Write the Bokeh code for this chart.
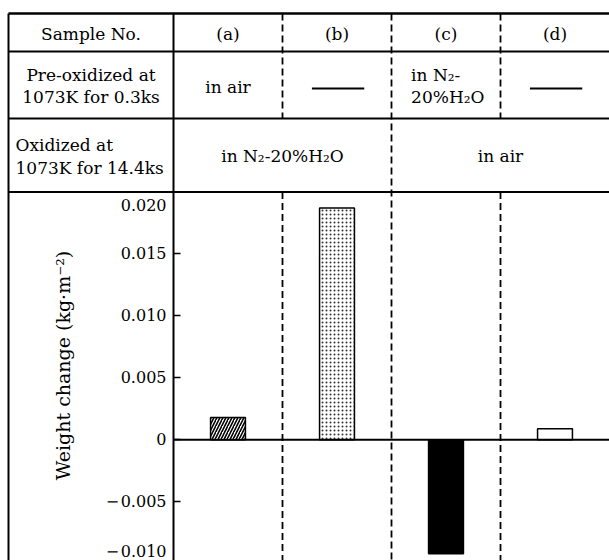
import math
from bokeh.plotting import figure
from bokeh.models import (Range1d, FixedTicker, CustomJSTickFormatter, ColumnDataSource)
from bokeh.core.properties import value
from bokeh.embed import file_html
from bokeh.resources import INLINE

# ---------------- data ----------------
samples = ["(a)", "(b)", "(c)", "(d)"]
weight_change = [0.0018, 0.0187, -0.0092, 0.0009]          # kg·m^-2
pre_oxidized = [["in air"], None, ["in N\u2082-", "20%H\u2082O"], None]
oxidized_groups = ["in N\u2082-20%H\u2082O", "in air"]       # (a)+(b), (c)+(d)
row_titles = [["Sample No."], ["Pre-oxidized at", "1073K for 0.3ks"],
              ["Oxidized at", "1073K for 14.4ks"]]
y_ticks = [-0.005, 0.0, 0.005, 0.010, 0.015]
y_end_ticks = [0.020, -0.010]
y_label = "Weight change (kg\u00b7m\u207b\u00b2)"

# ---------------- layout ----------------
FONT = "DejaVu Serif"
tf = value(FONT)
W, H = 609, 560
COL0 = 173                                 # canvas x of the first sample column
LEFT = 8                                   # outer left border
row_edges = [13, 51, 118, 191.5]           # canvas y of table rules
rule_widths = [2.6, 2, 2, 2]
colw = (W - COL0) / len(samples)
Y_BOTTOM, Y_CELL_TOP = -0.00974, 0.020
ppu = (H - row_edges[-1]) / (Y_CELL_TOP - Y_BOTTOM)
Y_TOP = Y_CELL_TOP + row_edges[-1] / ppu

p = figure(width=W, height=H, title=None,
           x_range=Range1d(-COL0 / colw, len(samples)), y_range=Range1d(Y_BOTTOM, Y_TOP),
           x_axis_type=None, output_backend="svg", toolbar_location=None,
           min_border=0, min_border_left=0, min_border_right=0,
           min_border_top=0, min_border_bottom=0)
p.extra_x_ranges = {"px": Range1d(0, W)}
p.extra_y_ranges = {"px": Range1d(H, 0)}
p.grid.visible = False
p.outline_line_color = None
p.background_fill_color = "white"
p.border_fill_color = "white"

# y axis, fixed at the left edge of the first sample column
ax = p.yaxis[0]
ax.fixed_location = 0
ax.bounds = (Y_BOTTOM, Y_CELL_TOP + (row_edges[-1] - row_edges[0]) / ppu)
ax.ticker = FixedTicker(ticks=y_ticks)
ax.formatter = CustomJSTickFormatter(code="""
if (Math.abs(tick) < 1e-12) return "0";
const s = Math.abs(tick).toFixed(3);
return tick < 0 ? "\u2212\u200a" + s : s;
""")
ax.axis_line_color = "black"
ax.axis_line_width = 2
ax.major_tick_in = 7
ax.major_tick_out = 0
ax.major_tick_line_width = 1.5
ax.major_tick_line_color = "black"
ax.minor_tick_line_color = None
ax.major_label_standoff = 7
ax.major_label_text_font = FONT
ax.major_label_text_font_size = "16px"
ax.major_label_text_color = "black"

# end tick labels (shifted inside the cell as in the original)
end_txt = [("\u2212\u200a%.3f" % abs(t)) if t < 0 else "%.3f" % t for t in y_end_ticks]
p.text(x=[0, 0], y=y_end_ticks, text=end_txt, x_offset=-7, y_offset=[13, -12],
       text_font=tf, text_font_size="16px", text_align="right",
       text_baseline="middle", text_color="black")

# axis title
p.text(x=[62], y=[365], text=[y_label], x_range_name="px", y_range_name="px",
       angle=math.pi / 2, text_font=tf, text_font_size="19px",
       text_align="center", text_baseline="middle", text_color="black")

# table rules
p.segment(x0=[LEFT] * len(row_edges), x1=[W] * len(row_edges), y0=row_edges, y1=row_edges,
          x_range_name="px", y_range_name="px", line_color="black", line_width=rule_widths)
p.segment(x0=[LEFT], x1=[LEFT], y0=[row_edges[0]], y1=[H], x_range_name="px",
          y_range_name="px", line_color="black", line_width=2)

# dashed column separators (gaps where cells are merged in the "Oxidized" row)
sx0, sy0, sy1 = [], [], []
for b in range(1, len(samples)):
    if b % 2 == 1:
        sx0 += [b, b]; sy0 += [row_edges[0], row_edges[3]]; sy1 += [row_edges[2], H]
    else:
        sx0 += [b]; sy0 += [row_edges[0]]; sy1 += [H]
p.segment(x0=sx0, x1=sx0, y0=sy0, y1=sy1, y_range_name="px",
          line_color="black", line_width=1.8, line_dash="7 4")

# bars
xc = [i + 0.5 for i in range(len(samples))]
src = ColumnDataSource(dict(x=xc, top=weight_change,
                            fill=["white", "white", "black", "white"],
                            hatch=["/", ".", " ", " "],
                            hscale=[6, 4, 6, 6], hweight=[1.6, 1.0, 1, 1],
                            hcolor=["black", "#333333", "black", "black"]))
p.vbar(x="x", top="top", bottom=0, width=0.32, source=src, fill_color="fill",
       line_color="black", line_width=1.5, hatch_pattern="hatch",
       hatch_scale="hscale", hatch_weight="hweight", hatch_color="hcolor")

# zero line
p.segment(x0=[0], x1=[len(samples)], y0=[0], y1=[0], line_color="black", line_width=2)

# header texts
p.text(x=xc, y=[33] * len(samples), text=samples, y_range_name="px", text_font=tf,
       text_font_size="17px", text_align="center", text_baseline="middle", text_color="black")

# left column row titles
left_center = (LEFT + COL0) / 2
p.text(x=[left_center], y=[33], text=row_titles[0], x_range_name="px", y_range_name="px",
       text_font=tf, text_font_size="17px", text_align="center", text_baseline="middle",
       text_color="black")
p.text(x=[left_center] * 2, y=[74, 96], text=row_titles[1], x_range_name="px",
       y_range_name="px", text_font=tf, text_font_size="17px", text_align="center",
       text_baseline="middle", text_color="black")
p.text(x=[15] * 2, y=[144, 167], text=row_titles[2], x_range_name="px",
       y_range_name="px", text_font=tf, text_font_size="17px", text_align="left",
       text_baseline="middle", text_color="black")

# pre-oxidized row
for i, entry in enumerate(pre_oxidized):
    if entry is None:
        p.segment(x0=[i + 0.27], x1=[i + 0.75], y0=[88], y1=[88], y_range_name="px",
                  line_color="black", line_width=1.8)
    elif len(entry) == 1:
        p.text(x=[i + 0.5], y=[86], text=entry, y_range_name="px", text_font=tf,
               text_font_size="17px", text_align="center", text_baseline="middle",
               text_color="black")
    else:
        p.text(x=[i + 0.18] * len(entry), y=[74 + 22 * j for j in range(len(entry))],
               text=entry, y_range_name="px", text_font=tf, text_font_size="17px",
               text_align="left", text_baseline="middle", text_color="black")

# oxidized row (merged cells)
p.text(x=[1.0, 3.0], y=[155, 155], text=oxidized_groups, y_range_name="px", text_font=tf,
       text_font_size="17px", text_align="center", text_baseline="middle", text_color="black")

open("out.html", "w").write(file_html(p, INLINE))
